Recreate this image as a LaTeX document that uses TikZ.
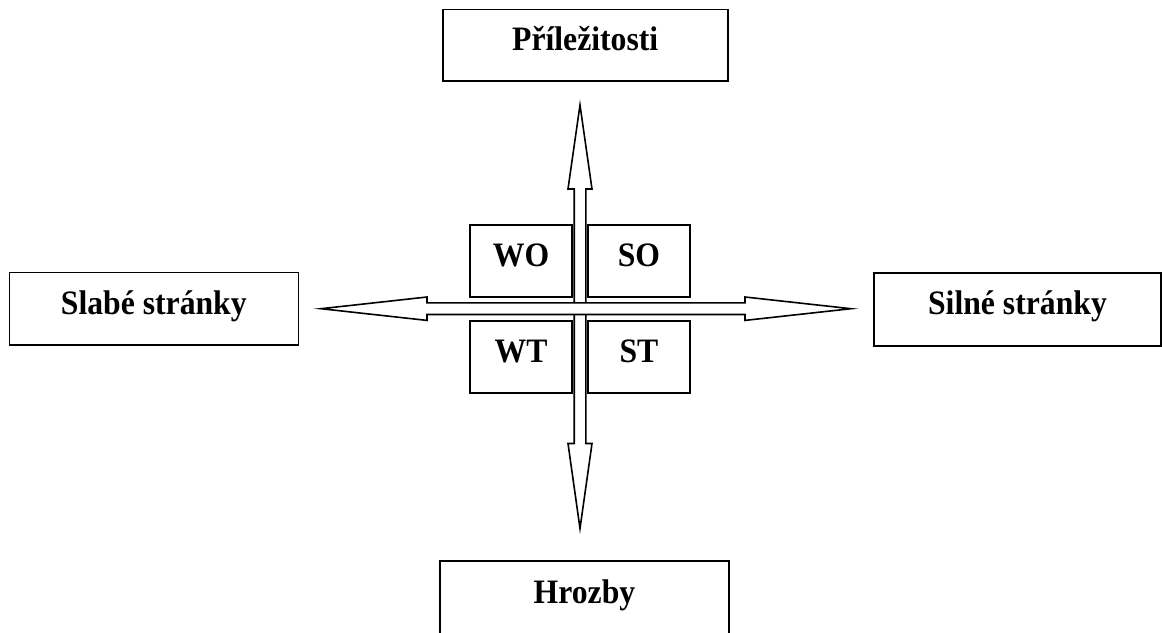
\documentclass[tikz,border=0pt]{standalone}
\usepackage{fontspec}
\setmainfont{Liberation Serif}
\newcommand{\stretchtxt}[1]{\scalebox{1}[1.08]{#1}}
\begin{document}
\begin{tikzpicture}[x=1pt,y=-1pt,
  box/.style={draw=black, line width=1.6pt, fill=white, inner sep=0pt,
    font=\bfseries\fontsize{31.7}{38}\selectfont, text height=23pt, text depth=11.8pt},
  blockarrow/.style={draw=black, line width=1.6pt, fill=white, line join=miter}]
\useasboundingbox (0,0) rectangle (1162,632);
% outer boxes
\node[box, minimum width=285pt, minimum height=71.7pt] (opp) at (585.2,45.2) {\stretchtxt{Příležitosti}};
\node[box, minimum width=289pt, minimum height=72.3pt] (weak) at (153.8,308.8) {\stretchtxt{Slabé stránky}};
\node[box, minimum width=287pt, minimum height=73pt] (strong) at (1017.5,309.3) {\stretchtxt{Silné stránky}};
\begin{scope}
\clip (0,0) rectangle (1162,632);
\node[box, minimum width=289pt, minimum height=74pt] (threat) at (584.5,598) {\stretchtxt{Hrozby}};
\end{scope}
% inner boxes
\node[box, minimum width=102pt, minimum height=72pt] (wo) at (521,261) {\stretchtxt{WO}};
\node[box, minimum width=102pt, minimum height=72pt] (so) at (639,261) {\stretchtxt{SO}};
\node[box, minimum width=102pt, minimum height=72pt] (wt) at (521,357) {\stretchtxt{WT}};
\node[box, minimum width=102pt, minimum height=72pt] (st) at (639,357) {\stretchtxt{ST}};
% vertical double arrow
\coordinate (tipN) at (580,105);
\coordinate (tipS) at (580,528.5);
\draw[blockarrow] (tipN) -- (592,189) -- (585.8,189) -- (585.8,443.5) -- (592,443.5)
  -- (tipS) -- (568,443.5) -- (574.2,443.5) -- (574.2,189) -- (568,189) -- cycle;
% horizontal double arrow
\coordinate (tipW) at (321,308.7);
\coordinate (tipE) at (851,308.7);
\draw[blockarrow] (tipW) -- (427,297) -- (427,302.9) -- (745,302.9) -- (745,297)
  -- (tipE) -- (745,320.4) -- (745,314.5) -- (427,314.5) -- (427,320.4) -- cycle;
\end{tikzpicture}
\end{document}
